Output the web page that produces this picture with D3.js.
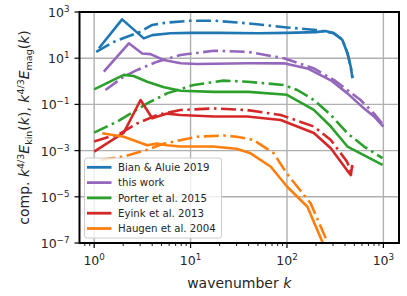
<!DOCTYPE html>
<html><head><meta charset="utf-8">
<script src="https://cdn.jsdelivr.net/npm/d3@7"></script>
<style>body{margin:0;background:#fff}svg{display:block;font-family:"DejaVu Sans",sans-serif}</style>
</head><body><svg id="c" width="407" height="296"></svg>
<script>
// ---- data ----
const seriesNames = ["Bian & Aluie 2019","this work","Porter et al. 2015","Eyink et al. 2013","Haugen et al. 2004"];
const seriesColors = ["#1f77b4","#9467bd","#2ca02c","#d62728","#ff7f0e"];

const bianKinK = [1.12,1.95,3.27,4,6.2,10,20,50,100,200,250,308,376,424,458,478];
const bianKinV = [27,480,72,100,120,125,125,120,125,135,150,120,61,16,4.3,1.35];
const bianMagK = [1.05,1.6,2.2,3.03,4,5.7,10,17.5,38.6,100,200,300,376,424,458,478];
const bianMagV = [19,51,85,141,275,350,420,420,325,215,165,125,65,17,4.5,1.4];

const thisKinK = [1.26,2.29,3.15,3.84,5.3,7.9,11.7,40,93,163,285,424,600,800,1000];
const thisKinV = [2.6,44,16,15,8.3,6,5.6,6,6,3.6,1.1,0.3,0.08,0.03,0.011];
const thisMagK = [1.31,2.03,2.8,4.5,7.85,17.5,38.6,93,190,308,580,800,1000];
const thisMagV = [0.42,1.6,3.1,7.1,13.8,21,19,10,3.6,1.13,0.155,0.04,0.013];

const portKinK = [1.0,2.03,2.57,3.55,5.3,7.9,17.5,40,100,190,285,424,980];
const portKinV = [0.45,1.9,1.7,0.96,0.55,0.39,0.35,0.35,0.26,0.058,0.011,0.0015,0.00024];
const portMagK = [1.0,1.73,3.55,5.7,10.7,22,39,92,128,190,285,424,630,980];
const portMagV = [0.006,0.018,0.11,0.3,0.69,1.07,0.96,0.69,0.42,0.155,0.035,0.0056,0.0015,0.00047];

const eyinKinK = [1.0,2.03,3.03,4,5.7,7.8,17.4,38.6,86,190,285,420,460,475];
const eyinKinV = [0.0009,0.006,0.155,0.025,0.04,0.035,0.03,0.03,0.021,0.0058,0.00126,0.00014,0.000087,0.00024];
const eyinMagK = [1.0,1.87,2.8,4.5,7.85,17,38.6,86,190,285,420,460,480];
const eyinMagV = [0.0025,0.0056,0.015,0.035,0.057,0.067,0.057,0.035,0.011,0.0029,0.00033,0.00012,0.00021];

const haugKinK = [1.21,2.03,3.55,4.5,5.7,7.85,17,30,42,68,100,163,233,260];
const haugKinV = [0.0056,0.004,0.0017,0.002,0.0017,0.0015,0.0015,0.0012,0.00076,0.0002,0.000028,0.0000037,0.00000011,0.00000003];
const haugMagK = [1.16,2.03,3.55,5.3,11.7,22,30,45,73,100,176,263,290];
const haugMagV = [0.0004,0.00055,0.0011,0.002,0.004,0.0045,0.004,0.0029,0.00076,0.0001,0.0000052,0.00000011,0.00000002];

const kinK = [bianKinK,thisKinK,portKinK,eyinKinK,haugKinK];
const kinV = [bianKinV,thisKinV,portKinV,eyinKinV,haugKinV];
const magK = [bianMagK,thisMagK,portMagK,eyinMagK,haugMagK];
const magV = [bianMagV,thisMagV,portMagV,eyinMagV,haugMagV];

const xMajor = [1,10,100,1000];
const xMajorExp = ["0","1","2","3"];
const yMajor = [1e-7,1e-5,1e-3,1e-1,1e1,1e3];
const yMajorExp = ["\u22127","\u22125","\u22123","\u22121","1","3"];

// ---- layout ----
const L = 79.5, R = 399, T = 12, B = 243;
const svg = d3.select("#c");
const x = d3.scaleLog().domain([Math.pow(10,-0.152), Math.pow(10,3.162)]).range([L,R]);
const y = d3.scaleLog().domain([1e-7,1e3]).range([B,T]);

svg.append("defs").append("clipPath").attr("id","clip")
  .append("rect").attr("x",L).attr("y",T).attr("width",R-L).attr("height",B-T);

// grid
const g = svg.append("g");
g.selectAll(".gx").data(xMajor).join("line")
  .attr("x1",d=>x(d)).attr("x2",d=>x(d)).attr("y1",T).attr("y2",B)
  .attr("stroke","#b0b0b0").attr("stroke-width",1.4);
g.selectAll(".gy").data(yMajor).join("line")
  .attr("y1",d=>y(d)).attr("y2",d=>y(d)).attr("x1",L).attr("x2",R)
  .attr("stroke","#b0b0b0").attr("stroke-width",1.4);

// lines
const line = d3.line().x(d=>x(d[0])).y(d=>y(d[1]));
const lg = svg.append("g").attr("clip-path","url(#clip)");
for (let i=0;i<5;i++){
  const kd = kinK[i].map((k,j)=>[k,kinV[i][j]]);
  const md = magK[i].map((k,j)=>[k,magV[i][j]]);
  lg.append("path").attr("d",line(kd)).attr("fill","none")
    .attr("stroke",seriesColors[i]).attr("stroke-width",2.6).attr("stroke-linejoin","round");
  lg.append("path").attr("d",line(md)).attr("fill","none")
    .attr("stroke",seriesColors[i]).attr("stroke-width",2.6).attr("stroke-linejoin","round")
    .attr("stroke-dasharray","15,4.5,2.6,4.5");
}

// x minor ticks
const minor = [];
for (let e=-1;e<=3;e++) for (let m=2;m<=9;m++){ const v=m*Math.pow(10,e); if (v>=x.domain()[0] && v<=x.domain()[1]) minor.push(v); }
svg.append("g").selectAll("line").data(minor).join("line")
  .attr("x1",d=>x(d)).attr("x2",d=>x(d)).attr("y1",B).attr("y2",B+3)
  .attr("stroke","#000").attr("stroke-width",0.9);
svg.append("g").selectAll("line").data(xMajor).join("line")
  .attr("x1",d=>x(d)).attr("x2",d=>x(d)).attr("y1",B).attr("y2",B+5)
  .attr("stroke","#000").attr("stroke-width",1.2);
svg.append("g").selectAll("line").data(yMajor).join("line")
  .attr("y1",d=>y(d)).attr("y2",d=>y(d)).attr("x1",L-5).attr("x2",L)
  .attr("stroke","#000").attr("stroke-width",1.2);

// tick labels
const fs = 12.5;
const xt = svg.append("g").selectAll("text").data(xMajor).join("text")
  .attr("x",d=>x(d)).attr("y",B+22).attr("text-anchor","middle").attr("font-size",fs).attr("fill","#262626");
xt.append("tspan").text("10");
xt.append("tspan").attr("dy",-5).attr("font-size",fs*0.7).text((d,i)=>xMajorExp[i]);
const yt = svg.append("g").selectAll("text").data(yMajor).join("text")
  .attr("x",L-10).attr("y",d=>y(d)+5).attr("text-anchor","end").attr("font-size",fs).attr("fill","#262626");
yt.append("tspan").text("10");
yt.append("tspan").attr("dy",-5).attr("font-size",fs*0.7).text((d,i)=>yMajorExp[i]);

// spines
svg.append("rect").attr("x",L).attr("y",T).attr("width",R-L).attr("height",B-T)
  .attr("fill","none").attr("stroke","#000").attr("stroke-width",2);

// axis labels
const xl = svg.append("text").attr("x",(L+R)/2).attr("y",288).attr("text-anchor","middle").attr("font-size",14).attr("fill","#262626");
xl.append("tspan").text("wavenumber ");
xl.append("tspan").attr("font-style","italic").text("k");

const yl = svg.append("text").attr("transform",`translate(29,${(T+B)/2}) rotate(-90)`).attr("text-anchor","middle").attr("font-size",14).attr("fill","#262626");
yl.append("tspan").text("comp. ");
yl.append("tspan").attr("font-style","italic").text("k");
yl.append("tspan").attr("dy",-5).attr("font-size",9.5).text("4/3");
yl.append("tspan").attr("dy",5).attr("font-style","italic").text("E");
yl.append("tspan").attr("dy",3).attr("font-size",9.5).text("kin");
yl.append("tspan").attr("dy",-3).text("(");
yl.append("tspan").attr("font-style","italic").text("k");
yl.append("tspan").text("), ");
yl.append("tspan").attr("font-style","italic").text("k");
yl.append("tspan").attr("dy",-5).attr("font-size",9.5).text("4/3");
yl.append("tspan").attr("dy",5).attr("font-style","italic").text("E");
yl.append("tspan").attr("dy",3).attr("font-size",9.5).text("mag");
yl.append("tspan").attr("dy",-3).text("(");
yl.append("tspan").attr("font-style","italic").text("k");
yl.append("tspan").text(")");

// legend
const leg = svg.append("g");
leg.append("rect").attr("x",84.5).attr("y",158).attr("width",137).attr("height",80).attr("rx",2.5)
  .attr("fill","#fff").attr("fill-opacity",0.8).attr("stroke","#cccccc").attr("stroke-width",1);
seriesNames.forEach((n,i)=>{
  const yy = 167.3 + i*15.3;
  leg.append("line").attr("x1",87).attr("x2",111.5).attr("y1",yy).attr("y2",yy)
    .attr("stroke",seriesColors[i]).attr("stroke-width",2.8);
  leg.append("text").attr("x",118).attr("y",yy+3.6).attr("font-size",10.2).attr("fill","#262626").text(n);
});
</script></body></html>
